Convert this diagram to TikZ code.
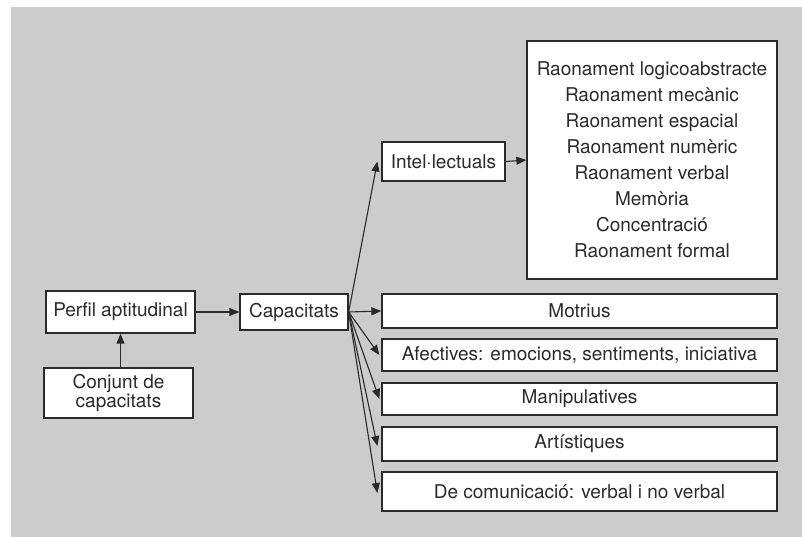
\documentclass[tikz,border=0pt]{standalone}
\usepackage{fontspec}
\setmainfont{TeX Gyre Heros}
\usetikzlibrary{arrows.meta,calc}
\definecolor{panel}{HTML}{CCCCCC}
\definecolor{ink}{HTML}{2A2A2A}
\tikzset{
  box/.style={draw=ink, line width=1.3pt, fill=white, inner sep=0pt,
    text=ink, font=\fontsize{19}{26}\selectfont, align=center},
  link/.style={draw=ink, line width=1.1pt, -{Triangle[length=10pt,width=8pt]}}
}
\begin{document}
\begin{tikzpicture}[x=1pt,y=-1pt]
  \useasboundingbox (0,0) rectangle (802,537);
  \fill[panel] (11,7) rectangle (802,537);

  % left column
  \node[box, minimum width=149pt, minimum height=42pt] (perfil) at (120.5,312) {Perfil aptitudinal};
  \node[box, minimum width=149pt, minimum height=50pt, font=\fontsize{19}{19}\selectfont] (conjunt) at (118.5,393) {Conjunt de\\capacitats};
  \node[box, minimum width=108pt, minimum height=36pt] (cap) at (294,312) {Capacitats};

  % intellectual branch
  \node[box, minimum width=123pt, minimum height=39pt] (intel) at (443.5,161.5) {Intel·lectuals};
  \node[box, minimum width=250pt, minimum height=238pt] (list) at (652,160)
    {Raonament logicoabstracte\\Raonament mecànic\\Raonament espacial\\Raonament numèric\\Raonament verbal\\Memòria\\Concentració\\Raonament formal};

  % other capacities
  \node[box, minimum width=395pt, minimum height=34pt] (motrius) at (579.5,311) {Motrius};
  \node[box, minimum width=395pt, minimum height=32pt] (afect) at (579.5,355) {Afectives: emocions, sentiments, iniciativa};
  \node[box, minimum width=395pt, minimum height=32pt] (manip) at (579.5,399) {Manipulatives};
  \node[box, minimum width=395pt, minimum height=34pt] (artist) at (579.5,444) {Artístiques};
  \node[box, minimum width=395pt, minimum height=39pt] (comun) at (579.5,491.5) {De comunicació: verbal i no verbal};

  % connectors
  \draw[link] (conjunt.north -| perfil.south) -- (perfil.south);
  \draw[link] (perfil.east) -- (cap.west);
  \draw[link] (intel.east) -- (list.west);
  \draw[link] (cap.east) -- ([xshift=-4pt]intel.west);
  \draw[link] (cap.east) -- (motrius.west);
  \draw[link] (cap.east) -- ([xshift=-2pt]afect.west);
  \draw[link] (cap.east) -- ([xshift=-2pt]manip.west);
  \draw[link] (cap.east) -- ([xshift=-4pt,yshift=-2pt]artist.west);
  \draw[link] (cap.east) -- ([xshift=-4pt,yshift=-1.5pt]comun.west);
\end{tikzpicture}
\end{document}
